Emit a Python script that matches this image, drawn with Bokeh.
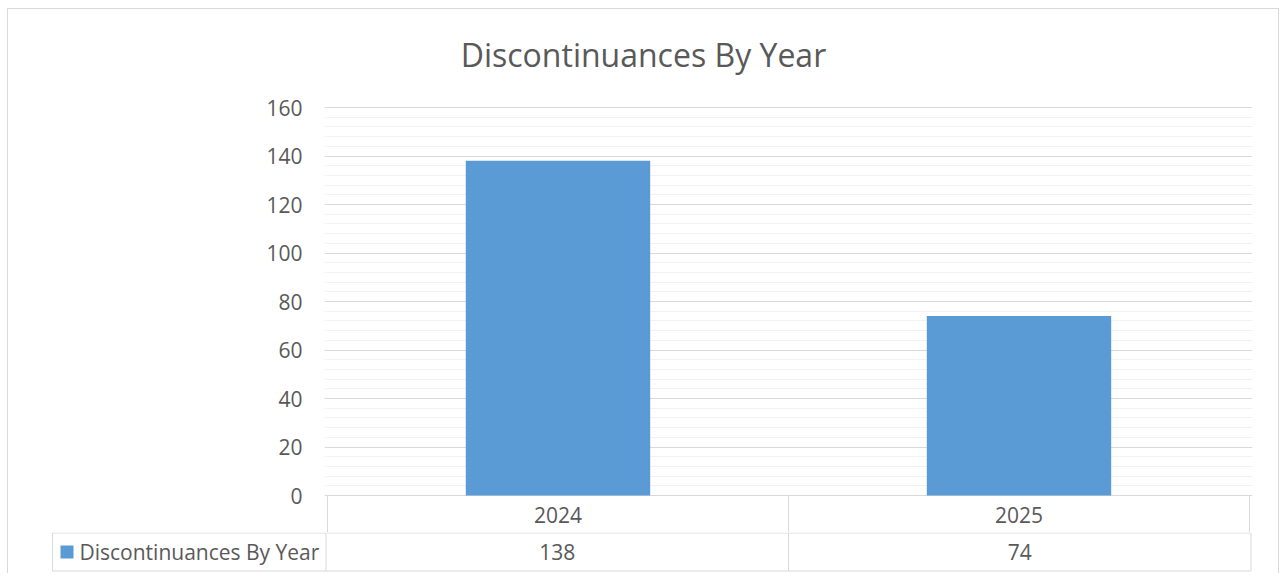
from bokeh.plotting import figure
from bokeh.models import FactorRange, Range1d, FixedTicker
from bokeh.layouts import column
from bokeh.embed import file_html
from bokeh.resources import INLINE
from bokeh.core.properties import value

# ---- data ----
chart_title = "Discontinuances By Year"
series_name = "Discontinuances By Year"
categories = ["2024", "2025"]
values = [138, 74]
y_major_ticks = [0, 20, 40, 60, 80, 100, 120, 140, 160]
y_minor_ticks = list(range(0, 161, 4))

# ---- style / layout constants (pixels) ----
FONT = "Open Sans"
TXT = "#595959"
BAR = "#5B9BD5"
GRID_MAJOR = "#d9d9d9"
GRID_MINOR = "#f2f2f2"
BORDER = "#d9d9d9"
LABEL_SIZE = "21px"

PAGE_LEFT = 8            # first content pixel (after css margin + border)
PAGE_TOP = 9
W = 1270
FRAME_L = 316            # chart frame left inside the figure
FRAME_R = 26
FRAME_PX = W - FRAME_L - FRAME_R
n = len(categories)
SLOT = 462.5             # pixels per category slot
PAD = FRAME_PX / SLOT - n
X0 = PAGE_LEFT + FRAME_L + PAD / 2 * SLOT   # page x of the first slot edge

Y_PX = 2.425             # pixels per value unit
Y_MAX = 160
Y_MAX_PX = 107           # page y of the axis maximum
TITLE_PX = 54            # page y of the title's middle
TOP_H = 523              # chart figure height (down to second table row)
ROW1_PX = 37             # first table row height in the chart figure
ROW2_PX = 38
TAB_H = 41


def px_to_cat(page_x):
    return (page_x - X0) / SLOT


def px_to_val(page_y):
    return Y_MAX + (Y_MAX_PX - page_y) / Y_PX


# ---- chart with title area and first table row ----
p = figure(width=W, height=TOP_H,
           x_range=FactorRange(factors=categories, range_padding=PAD,
                               range_padding_units="absolute"),
           y_range=Range1d(-ROW1_PX / Y_PX, px_to_val(PAGE_TOP)),
           output_backend="svg", toolbar_location=None,
           min_border_left=FRAME_L, min_border_right=FRAME_R,
           min_border_top=0, min_border_bottom=0)
p.frame_align = False
p.outline_line_color = None
p.background_fill_color = "white"
p.border_fill_color = "white"

# chart title, centred over the whole chart area
p.text(x=[px_to_cat(PAGE_LEFT + W / 2 - 0.5)], y=[px_to_val(TITLE_PX)], text=[chart_title],
       text_align="center", text_baseline="middle", text_font=value(FONT),
       text_font_size="32px", text_color=TXT)

p.vbar(x=categories, top=values, width=0.4, fill_color=BAR, line_color=None)

p.xaxis.visible = False
p.xgrid.visible = False
p.yaxis.ticker = FixedTicker(ticks=y_major_ticks, minor_ticks=y_minor_ticks)
p.yaxis.axis_line_color = None
p.yaxis.major_tick_line_color = None
p.yaxis.minor_tick_line_color = None
p.yaxis.major_tick_out = 0
p.yaxis.major_tick_in = 0
p.yaxis.major_label_standoff = 18
p.yaxis.major_label_text_font = FONT
p.yaxis.major_label_text_font_size = LABEL_SIZE
p.yaxis.major_label_text_color = TXT
p.ygrid.grid_line_color = GRID_MAJOR
p.ygrid.minor_grid_line_color = GRID_MINOR

# first table row: category names
row1_bottom = -ROW1_PX / Y_PX
p.segment(x0=list(range(n + 1)), x1=list(range(n + 1)),
          y0=[0] * (n + 1), y1=[row1_bottom] * (n + 1), line_color=BORDER, line_width=1)
p.text(x=[i + 0.5 for i in range(n)], y=[-19.5 / Y_PX] * n, text=categories,
       text_align="center", text_baseline="middle", text_font=value(FONT),
       text_font_size=LABEL_SIZE, text_color=TXT)

# ---- second table row: legend key + values ----
legend_left = px_to_cat(52)
t = figure(width=W, height=TAB_H,
           x_range=Range1d(px_to_cat(PAGE_LEFT), px_to_cat(PAGE_LEFT + W)),
           y_range=Range1d((TAB_H - 0.5) / ROW2_PX, -0.5 / ROW2_PX),
           output_backend="svg", toolbar_location=None,
           min_border_left=0, min_border_right=0, min_border_top=0, min_border_bottom=0)
t.frame_align = False
t.axis.visible = False
t.grid.visible = False
t.outline_line_color = None
t.background_fill_color = "white"
t.border_fill_color = "white"

t.segment(x0=[legend_left, legend_left], x1=[n, n], y0=[0, 1], y1=[0, 1],
          line_color=BORDER, line_width=1)
t.segment(x0=[legend_left] + list(range(n + 1)), x1=[legend_left] + list(range(n + 1)),
          y0=[0] * (n + 2), y1=[1] * (n + 2), line_color=BORDER, line_width=1)

t.text(x=[i + 0.5 for i in range(n)], y=[0.5] * n, text=[str(v) for v in values],
       text_align="center", text_baseline="middle", text_font=value(FONT),
       text_font_size=LABEL_SIZE, text_color=TXT)
t.scatter(x=[px_to_cat(66.5)], y=[0.5], marker="square", size=13,
          fill_color=BAR, line_color=None)
t.text(x=[px_to_cat(79)], y=[0.5], text=[series_name], text_align="left",
       text_baseline="middle", text_font=value(FONT), text_font_size=LABEL_SIZE,
       text_color=TXT)

layout = column(p, t, spacing=0,
                styles={"margin-left": "7px", "margin-top": "8px",
                        "border-left": f"1px solid {BORDER}",
                        "border-top": f"1px solid {BORDER}",
                        "border-right": f"1px solid {BORDER}"})

open("out.html", "w").write(file_html(layout, INLINE))
